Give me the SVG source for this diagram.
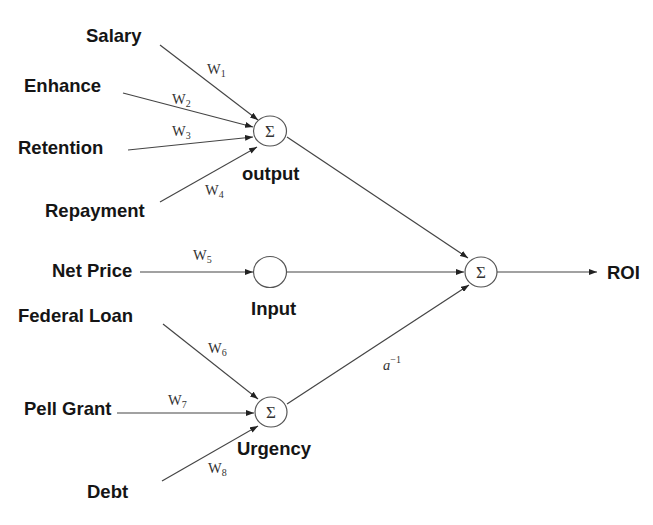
<svg xmlns="http://www.w3.org/2000/svg" width="653" height="525" viewBox="0 0 653 525">
<style>
.lbl{font-family:"Liberation Sans",Arial,sans-serif;font-weight:bold;font-size:18.5px;fill:#151515}
.w{font-family:"Liberation Serif","Times New Roman",serif;font-size:14.5px;fill:#333}
.sub{font-size:10px}
.sig{font-family:"Liberation Serif","Times New Roman",serif;font-size:17px;fill:#333;text-anchor:middle}
.node{fill:#fff;stroke:#555;stroke-width:1.2}
.edge{stroke:#444;stroke-width:1.2;fill:none;marker-end:url(#arr)}
</style>
<defs>
<marker id="arr" markerUnits="userSpaceOnUse" markerWidth="8" markerHeight="6" refX="8" refY="3" orient="auto">
<path d="M0,0 L8,3 L0,6 Z" fill="#222"/>
</marker>
</defs>
<rect width="653" height="525" fill="#fff"/>
<g id="connectors">
<line class="edge" x1="160" y1="45" x2="258" y2="120"/>
<line class="edge" x1="123" y1="93" x2="253" y2="127"/>
<line class="edge" x1="128" y1="150" x2="253" y2="137"/>
<line class="edge" x1="160" y1="202" x2="257" y2="147"/>
<line class="edge" x1="140" y1="272" x2="253" y2="272"/>
<line class="edge" x1="163" y1="324" x2="258" y2="399"/>
<line class="edge" x1="117" y1="413" x2="254" y2="413"/>
<line class="edge" x1="162" y1="481" x2="258" y2="426"/>
<line class="edge" x1="287" y1="137" x2="468" y2="258"/>
<line class="edge" x1="286" y1="272" x2="464" y2="272"/>
<line class="edge" x1="287" y1="404" x2="469" y2="285"/>
<line class="edge" x1="497" y1="272" x2="597" y2="272"/>
<text class="w" x="207" y="74">W<tspan class="sub" dy="3">1</tspan></text>
<text class="w" x="172" y="104">W<tspan class="sub" dy="3">2</tspan></text>
<text class="w" x="172" y="136">W<tspan class="sub" dy="3">3</tspan></text>
<text class="w" x="205" y="195">W<tspan class="sub" dy="3">4</tspan></text>
<text class="w" x="193" y="260">W<tspan class="sub" dy="3">5</tspan></text>
<text class="w" x="208" y="353">W<tspan class="sub" dy="3">6</tspan></text>
<text class="w" x="168" y="405">W<tspan class="sub" dy="3">7</tspan></text>
<text class="w" x="208" y="473">W<tspan class="sub" dy="3">8</tspan></text>
<text class="w" x="383" y="370" font-style="italic" font-size="16">a<tspan font-style="normal" font-size="10" dy="-7">−1</tspan></text>
</g>
<g id="salary"><text class="lbl" x="86" y="42">Salary</text></g>
<g id="enhance"><text class="lbl" x="24" y="92">Enhance</text></g>
<g id="retention"><text class="lbl" x="18" y="154">Retention</text></g>
<g id="repayment"><text class="lbl" x="45" y="217">Repayment</text></g>
<g id="netprice"><text class="lbl" x="52" y="277">Net Price</text></g>
<g id="federalloan"><text class="lbl" x="18" y="322">Federal Loan</text></g>
<g id="pellgrant"><text class="lbl" x="24" y="415">Pell Grant</text></g>
<g id="debt"><text class="lbl" x="87" y="498">Debt</text></g>
<g id="output">
<ellipse class="node" cx="270" cy="131" rx="16.5" ry="15"/>
<text class="sig" x="270" y="137">Σ</text>
<text class="lbl" x="242" y="180">output</text>
</g>
<g id="input">
<ellipse class="node" cx="270" cy="272" rx="16.5" ry="15.5"/>
<text class="lbl" x="251" y="315">Input</text>
</g>
<g id="urgency">
<ellipse class="node" cx="271" cy="412" rx="16" ry="15"/>
<text class="sig" x="271" y="418">Σ</text>
<text class="lbl" x="237" y="455">Urgency</text>
</g>
<g id="sum">
<ellipse class="node" cx="481" cy="272" rx="16" ry="15"/>
<text class="sig" x="481" y="278">Σ</text>
</g>
<g id="roi"><text class="lbl" x="607" y="279">ROI</text></g>
</svg>
